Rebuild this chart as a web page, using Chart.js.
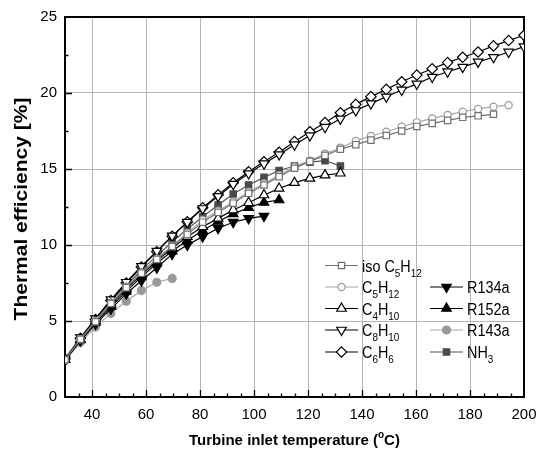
<!DOCTYPE html>
<html><head><meta charset="utf-8">
<script src="https://cdn.jsdelivr.net/npm/chart.js@4.4.1/dist/chart.umd.min.js"></script>
<style>html,body{margin:0;padding:0;background:#fff;}</style>
</head><body>
<canvas id="c" width="551" height="458" style="display:block;width:551px;height:458px"></canvas>
<script>
// ---- data ----
const temperatures = [30, 35.7, 41.3, 47, 52.7, 58.3, 64, 69.7, 75.3, 81, 86.7, 92.3, 98, 103.7, 109.3, 115, 120.7, 126.3, 132, 137.7, 143.3, 149, 154.7, 160.3, 166, 171.7, 177.3, 183, 188.7, 194.3, 200];
const isoC5H12 = [2.45, 3.8, 4.95, 6.15, 7.2, 8.15, 9.05, 9.9, 10.7, 11.5, 12.15, 12.75, 13.4, 13.95, 14.5, 15.05, 15.5, 15.9, 16.3, 16.6, 16.9, 17.2, 17.5, 17.8, 18.0, 18.2, 18.4, 18.5, 18.6];
const C5H12 = [2.45, 3.8, 5.0, 6.2, 7.25, 8.2, 9.1, 9.95, 10.8, 11.65, 12.25, 12.85, 13.5, 14.05, 14.6, 15.15, 15.55, 16.0, 16.4, 16.85, 17.17, 17.45, 17.78, 18.07, 18.33, 18.55, 18.77, 18.95, 19.1, 19.2];
const C4H10 = [2.45, 3.8, 5.0, 6.1, 7.1, 8.05, 8.95, 9.8, 10.55, 11.2, 11.75, 12.3, 12.78, 13.29, 13.72, 14.1, 14.38, 14.6, 14.72];
const C8H10 = [2.5, 3.9, 5.15, 6.4, 7.55, 8.6, 9.6, 10.6, 11.5, 12.4, 13.2, 14.0, 14.7, 15.35, 15.95, 16.6, 17.2, 17.75, 18.3, 18.85, 19.3, 19.75, 20.2, 20.6, 21.05, 21.4, 21.7, 22.05, 22.35, 22.7, 23.05];
const C6H6 = [2.5, 3.86, 5.1, 6.35, 7.5, 8.55, 9.56, 10.58, 11.52, 12.45, 13.3, 14.1, 14.82, 15.48, 16.1, 16.8, 17.45, 18.05, 18.7, 19.25, 19.76, 20.24, 20.74, 21.18, 21.6, 22.0, 22.35, 22.7, 23.1, 23.45, 23.8];
const R134a = [2.4, 3.7, 4.8, 5.8, 6.8, 7.65, 8.5, 9.4, 10.0, 10.55, 11.1, 11.5, 11.75, 11.9];
const R152a = [2.45, 3.75, 4.9, 5.95, 6.95, 7.9, 8.8, 9.6, 10.3, 10.95, 11.55, 12.05, 12.45, 12.8, 12.96];
const R143a = [2.4, 3.6, 4.6, 5.5, 6.3, 7.0, 7.55, 7.8];
const NH3 = [2.5, 3.85, 5.05, 6.25, 7.35, 8.35, 9.3, 10.2, 11.05, 11.86, 12.63, 13.35, 13.95, 14.45, 14.9, 15.2, 15.45, 15.55, 15.2];
const xTickLabels = [40, 60, 80, 100, 120, 140, 160, 180, 200];
const yTickLabels = [0, 5, 10, 15, 20, 25];

const FONT = '"Liberation Sans", Arial, sans-serif';

function pts(vals) { return vals.map((v, i) => ({ x: temperatures[i], y: v })); }

const series = [
  { key: 'iso', legend: [['iso C', 0], ['5', 1], ['H', 0], ['12', 1]], data: isoC5H12, style: 'rect', r: 4.5, rot: 0, line: '#707070', fill: '#ffffff', edge: '#707070', col: 0, row: 0 },
  { key: 'C5', legend: [['C', 0], ['5', 1], ['H', 0], ['12', 1]], data: C5H12, style: 'circle', r: 3.6, rot: 0, line: '#a8a8a8', fill: '#ffffff', edge: '#9a9a9a', col: 0, row: 1 },
  { key: 'C4', legend: [['C', 0], ['4', 1], ['H', 0], ['10', 1]], data: C4H10, style: 'triangle', r: 5.5, rot: 0, line: '#000000', fill: '#ffffff', edge: '#000000', col: 0, row: 2 },
  { key: 'C8', legend: [['C', 0], ['8', 1], ['H', 0], ['10', 1]], data: C8H10, style: 'triangle', r: 5.5, rot: 180, line: '#000000', fill: '#ffffff', edge: '#000000', col: 0, row: 3 },
  { key: 'C6', legend: [['C', 0], ['6', 1], ['H', 0], ['6', 1]], data: C6H6, style: 'rectRot', r: 5.2, rot: 0, line: '#000000', fill: '#ffffff', edge: '#000000', col: 0, row: 4 },
  { key: 'R134a', legend: [['R134a', 0]], data: R134a, style: 'triangle', r: 5.5, rot: 180, line: '#000000', fill: '#000000', edge: '#000000', col: 1, row: 1 },
  { key: 'R152a', legend: [['R152a', 0]], data: R152a, style: 'triangle', r: 5.5, rot: 0, line: '#000000', fill: '#000000', edge: '#000000', col: 1, row: 2 },
  { key: 'R143a', legend: [['R143a', 0]], data: R143a, style: 'circle', r: 4, rot: 0, line: '#a8a8a8', fill: '#9a9a9a', edge: '#9a9a9a', col: 1, row: 3 },
  { key: 'NH3', legend: [['NH', 0], ['3', 1]], data: NH3, style: 'rect', r: 4.5, rot: 0, line: '#555555', fill: '#4a4a4a', edge: '#4a4a4a', col: 1, row: 4 }
];

function drawMarker(ctx, s, x, y) {
  const r = s.r;
  ctx.save();
  ctx.fillStyle = s.fill; ctx.strokeStyle = s.edge; ctx.lineWidth = 1.2;
  ctx.beginPath();
  if (s.style === 'circle') {
    ctx.arc(x, y, r, 0, Math.PI * 2);
  } else if (s.style === 'rect') {
    const h = r * Math.SQRT1_2;
    ctx.rect(x - h, y - h, 2 * h, 2 * h);
  } else if (s.style === 'rectRot') {
    ctx.moveTo(x, y - r); ctx.lineTo(x + r, y); ctx.lineTo(x, y + r); ctx.lineTo(x - r, y); ctx.closePath();
  } else if (s.style === 'triangle') {
    let a = s.rot * Math.PI / 180;
    for (let k = 0; k < 3; k++) {
      const px = x + Math.sin(a) * r, py = y - Math.cos(a) * r;
      if (k === 0) ctx.moveTo(px, py); else ctx.lineTo(px, py);
      a += Math.PI * 2 / 3;
    }
    ctx.closePath();
  }
  ctx.fill(); ctx.stroke();
  ctx.restore();
}

function drawRich(ctx, parts, x, y, size, subSize, squeeze) {
  ctx.save();
  ctx.translate(x, y);
  ctx.scale(squeeze, 1);
  ctx.fillStyle = '#000';
  ctx.textBaseline = 'alphabetic';
  let cx = 0;
  for (const [t, sub] of parts) {
    ctx.font = (sub ? subSize : size) + 'px ' + FONT;
    ctx.fillText(t, cx, sub ? 5 : 0);
    cx += ctx.measureText(t).width;
  }
  ctx.restore();
}

const framePlugin = {
  id: 'frame',
  beforeDatasetsDraw(chart) {
    const { ctx, chartArea: a, scales } = chart;
    const xs = scales.x, ys = scales.y;
    ctx.save();
    ctx.strokeStyle = '#000';
    ctx.lineWidth = 1.3;
    ctx.beginPath();
    for (let v = 35; v < 200; v += 5) {
      const px = Math.round(xs.getPixelForValue(v)) + 0.5;
      const len = (v % 20 === 0) ? 7 : 3.5;
      ctx.moveTo(px, a.bottom); ctx.lineTo(px, a.bottom - len);
    }
    for (let v = 2.5; v < 25; v += 2.5) {
      const py = Math.round(ys.getPixelForValue(v)) + 0.5;
      const len = (v % 5 === 0) ? 7 : 3.5;
      ctx.moveTo(a.left, py); ctx.lineTo(a.left + len, py);
    }
    ctx.stroke();
    ctx.lineWidth = 2;
    ctx.beginPath();
    ctx.moveTo(a.left, a.top); ctx.lineTo(a.right, a.top); ctx.lineTo(a.right, a.bottom); ctx.lineTo(a.left, a.bottom); ctx.closePath();
    ctx.stroke();
    ctx.restore();
  },
  afterDraw(chart) {
    const { ctx, chartArea: a } = chart;
    // y title
    ctx.save();
    ctx.translate(22, (a.top + a.bottom) / 2 + 2);
    ctx.rotate(-Math.PI / 2);
    ctx.scale(1, 0.85);
    ctx.font = 'bold 21px ' + FONT;
    ctx.fillStyle = '#000';
    ctx.textAlign = 'center';
    ctx.textBaseline = 'middle';
    ctx.fillText('Thermal efficiency [%]', 0, 0);
    ctx.restore();
    // x title with superscript
    ctx.save();
    ctx.fillStyle = '#000';
    ctx.textBaseline = 'alphabetic';
    const f = 'bold 15px ' + FONT, fs = 'bold 10px ' + FONT;
    ctx.font = f;
    const p1 = 'Turbine inlet temperature (', p3 = 'C)';
    const w1 = ctx.measureText(p1).width, w3 = ctx.measureText(p3).width;
    ctx.font = fs; const w2 = ctx.measureText('o').width;
    let x0 = (a.left + a.right) / 2 - (w1 + w2 + w3) / 2;
    const yb = 445;
    ctx.font = f; ctx.fillText(p1, x0, yb);
    ctx.font = fs; ctx.fillText('o', x0 + w1, yb - 7);
    ctx.font = f; ctx.fillText(p3, x0 + w1 + w2, yb);
    ctx.restore();
    // legend
    const colX = [325, 430];
    const rowY = [265.5, 287, 308.5, 330, 352];
    for (const s of series) {
      const lx = colX[s.col], ly = rowY[s.row];
      ctx.save();
      ctx.strokeStyle = s.line; ctx.lineWidth = 1.2;
      ctx.beginPath(); ctx.moveTo(lx, ly); ctx.lineTo(lx + 33, ly); ctx.stroke();
      ctx.restore();
      drawMarker(ctx, s, lx + 16.5, ly);
      drawRich(ctx, s.legend, lx + 37, ly + 6, 16, 11, 0.9);
    }
  }
};

const datasets = series.map(s => ({
  label: s.key,
  data: pts(s.data),
  borderColor: s.line,
  borderWidth: 1.2,
  pointStyle: s.style,
  pointRotation: s.rot,
  pointRadius: s.r,
  pointBackgroundColor: s.fill,
  pointBorderColor: s.edge,
  pointBorderWidth: 1.2,
  fill: false,
  tension: 0
}));

new Chart(document.getElementById('c'), {
  type: 'line',
  data: { datasets },
  options: {
    responsive: false,
    animation: false,
    events: [],
    layout: { padding: { left: 0, right: 27, top: 17, bottom: 0 } },
    plugins: { legend: { display: false }, tooltip: { enabled: false } },
    scales: {
      x: {
        type: 'linear', min: 30, max: 200,
        afterBuildTicks: sc => { sc.ticks = xTickLabels.map(v => ({ value: v })); },
        afterFit: sc => { sc.height = 61; },
        grid: { color: '#b4b4b4', lineWidth: 1, drawTicks: false },
        border: { display: false },
        ticks: { padding: 9, maxRotation: 0, autoSkip: false, color: '#000', font: { family: FONT, size: 15 } }
      },
      y: {
        type: 'linear', min: 0, max: 25,
        afterBuildTicks: sc => { sc.ticks = yTickLabels.map(v => ({ value: v })); },
        afterFit: sc => { sc.width = 65; },
        grid: { color: '#b4b4b4', lineWidth: 1, drawTicks: false },
        border: { display: false },
        ticks: { padding: 8, color: '#000', font: { family: FONT, size: 15 } }
      }
    }
  },
  plugins: [framePlugin]
});
</script>
</body></html>
